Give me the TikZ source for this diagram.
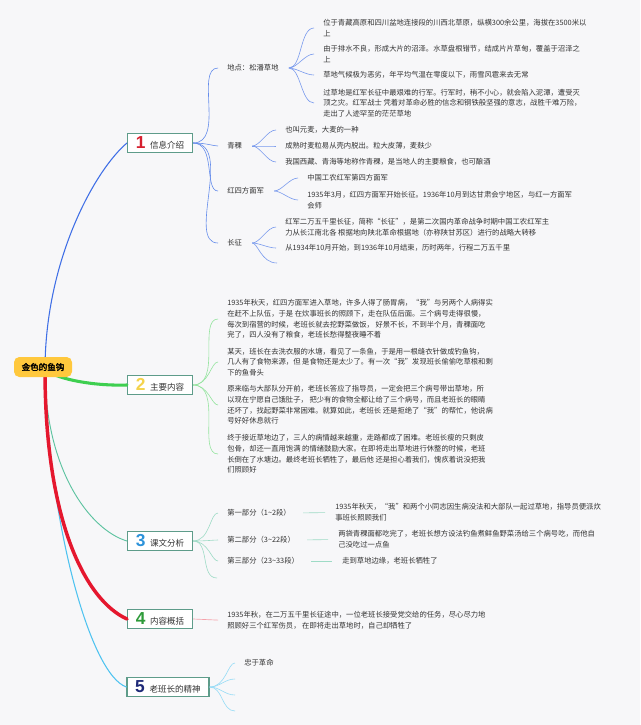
\documentclass[tikz,border=0pt]{standalone}
\usepackage{fontspec}
\setmainfont{Noto Sans CJK SC}[AutoFakeBold=2.5]
\newfontfamily\numfont{Liberation Sans}
\usetikzlibrary{positioning}
\definecolor{bgcol}{HTML}{F7F7F9}
\definecolor{txt}{HTML}{333333}
\definecolor{boxline}{HTML}{5E9C8A}
\definecolor{rootfill}{HTML}{FFC83D}
\definecolor{num1}{HTML}{D6202F}
\definecolor{num2}{HTML}{F4D34C}
\definecolor{num3}{HTML}{2D93DA}
\definecolor{num4}{HTML}{2E9B3A}
\definecolor{num5}{HTML}{1E2A78}
\definecolor{br1}{HTML}{3F6FE6}
\definecolor{br2}{HTML}{3ECF50}
\definecolor{br3}{HTML}{5DC3A0}
\definecolor{br4}{HTML}{E5172E}
\definecolor{br5}{HTML}{4FC3F0}
\newcommand{\bignum}[2]{{\numfont\bfseries\fontsize{13}{13}\selectfont\color{#1}#2}\hspace{3.5pt}}
\tikzset{
  mainbox/.style = {draw=boxline, line width=0.8pt, fill=white, text=txt,
                    minimum width=48.75pt, minimum height=14.25pt,
                    inner xsep=2pt, inner ysep=1pt,
                    font=\fontsize{6.4}{7}\selectfont},
  rootbox/.style = {fill=rootfill, rounded corners=4pt, text=black,
                    minimum width=43.5pt, minimum height=15pt,
                    font=\fontsize{6.4}{7}\selectfont\bfseries},
  topic/.style   = {anchor=west, inner sep=0pt, text=txt,
                    font=\fontsize{5.5}{8}\selectfont},
  leaf/.style    = {topic, align=left},
  trunk/.style   = {line width=0.8pt, line cap=round},
  fat/.style     = {line width=2.3pt, line cap=round},
  fan/.style     = {line width=0.45pt, shorten >=6.75pt},
}

\begin{document}
\begin{tikzpicture}[x=0.75pt, y=-0.75pt]
    \fill[bgcol] (0,0) rectangle (640,725);
    \useasboundingbox (0,0) rectangle (640,725);

    % five main topics
    \node[mainbox] (n1) at (160,143) {\bignum{num1}{1}信息介绍};
    \node[mainbox] (n2) at (160,385) {\bignum{num2}{2}主要内容};
    \node[mainbox] (n3) at (160,541) {\bignum{num3}{3}课文分析};
    \node[mainbox] (n4) at (160,619) {\bignum{num4}{4}内容概括};
    \node[mainbox, minimum width=61.5pt] (n5) at (168,687)
        {\bignum{num5}{5}老班长的精神};

    % trunks leave from under the root, so the root box goes on last
    \coordinate (hub) at (45,370);
    \draw[trunk, br1] (hub) .. controls (45,260) and (95,170) .. (n1.west);
    \draw[fat, br2]   (hub) .. controls (60,380) and (95,386) .. (n2.west);
    \draw[trunk, br3, line width=0.7pt]
                      (hub) .. controls (45,470) and (90,530) .. (n3.west);
    \draw[trunk, br5] (hub) .. controls (48,520) and (90,675) .. (n5.west);
    \draw[fat, br4, line width=2.6pt]
                      (hub) .. controls (45,520) and (85,600) .. (n4.west);
    \node[rootbox] (root) at (43,367) {金色的鱼钩};

    % 1 -- information
    \node[topic] (loc) at (227,68)  {地点：松潘草地};
    \node[topic] (qk)  at (227,146) {青稞};
    \node[topic] (hs)  at (227,191) {红四方面军};
    \node[topic] (cz)  at (227,243) {长征};
    \draw[fan, br1!80] (n1.east) to[out=0, in=180] (loc.west);
    \draw[fan, br1!80] (n1.east) to[out=0, in=180] (qk.west);
    \draw[fan, br1!80] (n1.east) to[out=0, in=180] (hs.west);
    \draw[fan, br1!80] (n1.east) to[out=0, in=180] (cz.west);

    \node[leaf] (loc1) at (323,28)
        {位于青藏高原和四川盆地连接段的川西北草原，纵横300余公里，海拔在3500米以\\上};
    \node[leaf] (loc2) at (323,54)
        {由于排水不良，形成大片的沼泽。水草盘根错节，结成片片草甸，覆盖于沼泽之\\上};
    \node[leaf] (loc3) at (323,75)
        {草地气候极为恶劣，年平均气温在零度以下，雨雪风雹来去无常};
    \node[leaf] (loc4) at (323,103)
        {过草地是红军长征中最艰难的行军。行军时，稍不小心，就会陷入泥潭，遭受灭\\
         顶之灾。红军战士 凭着对革命必胜的信念和钢铁般坚强的意志，战胜千难万险，\\
         走出了人迹罕至的茫茫草地};
    \draw[fan, br1!70, shorten <=7.5pt] (loc.east) to[out=0, in=180] (loc1.west);
    \draw[fan, br1!70, shorten <=7.5pt] (loc.east) to[out=0, in=180] (loc2.west);
    \draw[fan, br1!70, shorten <=7.5pt] (loc.east) to[out=0, in=180] (loc3.west);
    \draw[fan, br1!70, shorten <=7.5pt] (loc.east) to[out=0, in=180] (loc4.west);

    \node[leaf] (qk1) at (285,130) {也叫元麦，大麦的一种};
    \node[leaf] (qk2) at (285,146) {成熟时麦粒易从壳内脱出。粒大皮薄，麦麸少};
    \node[leaf] (qk3) at (285,162)
        {我国西藏、青海等地称作青稞，是当地人的主要粮食，也可酿酒};
    \draw[fan, br1!70, shorten <=7.5pt] (qk.east) to[out=0, in=180] (qk1.west);
    \draw[fan, br1!70, shorten <=7.5pt] (qk.east) to[out=0, in=180] (qk2.west);
    \draw[fan, br1!70, shorten <=7.5pt] (qk.east) to[out=0, in=180] (qk3.west);

    \node[leaf] (hs1) at (307,178) {中国工农红军第四方面军};
    \node[leaf] (hs2) at (307,200)
        {1935年3月，红四方面军开始长征。1936年10月到达甘肃会宁地区，与红一方面军\\会师};
    \draw[fan, br1!70, shorten <=7.5pt] (hs.east) to[out=0, in=180] (hs1.west);
    \draw[fan, br1!70, shorten <=7.5pt] (hs.east) to[out=0, in=180] (hs2.west);

    \node[leaf] (cz1) at (285,227)
        {红军二万五千里长征，简称“长征”，是第二次国内革命战争时期中国工农红军主\\
         力从长江南北各 根据地向陕北革命根据地（亦称陕甘苏区）进行的战略大转移};
    \node[leaf] (cz2) at (285,248)
        {从1934年10月开始，到1936年10月结束，历时两年，行程二万五千里};
    \coordinate (cz3) at (277,263);
    \draw[fan, br1!70, shorten <=7.5pt] (cz.east) to[out=0, in=180] (cz1.west);
    \draw[fan, br1!70, shorten <=7.5pt] (cz.east) to[out=0, in=180] (cz2.west);
    \draw[fan, br1!70, shorten <=7.5pt, shorten >=0pt]
        (cz.east) to[out=0, in=180] (cz3);

    % 2 -- main content
    \node[leaf] (m1) at (227,319)
        {1935年秋天，红四方面军进入草地，许多人得了肠胃病，“我”与另两个人病得实\\
         在赶不上队伍，于是 在炊事班长的照顾下，走在队伍后面。三个病号走得很慢，\\
         每次到宿营的时候，老班长就去挖野菜做饭， 好景不长，不到半个月，青稞面吃\\
         完了，四人没有了粮食，老班长愁得整夜睡不着};
    \node[leaf] (m2) at (227,362)
        {某天，班长在去洗衣服的水塘，看见了一条鱼，于是用一根缝衣针做成钓鱼钩，\\
         几人有了食物来源，但 是食物还是太少了。有一次“我”发现班长偷偷吃草根和剩\\
         下的鱼骨头};
    \node[leaf] (m3) at (227,405)
        {原来临与大部队分开前，老班长答应了指导员，一定会把三个病号带出草地，所\\
         以现在宁愿自己饿肚子， 把少有的食物全都让给了三个病号，而且老班长的眼睛\\
         还坏了，找起野菜非常困难。就算如此，老班长 还是拒绝了“我”的帮忙，他说病\\
         号好好休息就行};
    \node[leaf] (m4) at (227,454)
        {终于接近草地边了，三人的病情越来越重，走路都成了困难。老班长瘦的只剩皮\\
         包骨，却还一直用饱满 的情绪鼓励大家。在即将走出草地进行休整的时候，老班\\
         长倒在了水塘边。最终老班长牺牲了，最后他 还是担心着我们，愧疚着说没把我\\
         们照顾好};
    \draw[fan, br2!55] (n2.east) to[out=0, in=180] (m1.west);
    \draw[fan, br2!55] (n2.east) to[out=0, in=180] (m2.west);
    \draw[fan, br2!55] (n2.east) to[out=0, in=180] (m3.west);
    \draw[fan, br2!55] (n2.east) to[out=0, in=180] (m4.west);

    % 3 -- text analysis
    \node[topic] (s1) at (227,513) {第一部分（1\textasciitilde 2段）};
    \node[topic] (s2) at (227,540) {第二部分（3\textasciitilde 22段）};
    \node[topic] (s3) at (227,561) {第三部分（23\textasciitilde 33段）};
    \coordinate (s4) at (217,578);
    \draw[fan, br3!60] (n3.east) to[out=0, in=180] (s1.west);
    \draw[fan, br3!60] (n3.east) to[out=0, in=180] (s2.west);
    \draw[fan, br3!60] (n3.east) to[out=0, in=180] (s3.west);
    \draw[fan, br3!60, shorten >=0pt] (n3.east) to[out=0, in=180] (s4);

    \node[leaf] (t1) at (335,512.5)
        {1935年秋天，“我”和两个小同志因生病没法和大部队一起过草地，指导员便派炊\\
         事班长照顾我们};
    \node[leaf] (t2) at (338,539.5)
        {两袋青稞面都吃完了，老班长想方设法钓鱼煮鲜鱼野菜汤给三个病号吃，而他自\\
         己没吃过一点鱼};
    \node[leaf] (t3) at (342,561) {走到草地边缘，老班长牺牲了};
    \draw[br3!60, line width=0.45pt, shorten <=9pt, shorten >=7.5pt] (s1.east) -- (t1.west);
    \draw[br3!60, line width=0.45pt, shorten <=9pt, shorten >=7.5pt] (s2.east) -- (t2.west);
    \draw[br3!60, line width=0.45pt, shorten <=9pt, shorten >=7.5pt] (s3.east) -- (t3.west);

    % 4 -- summary
    \node[leaf] (g1) at (227,620.5)
        {1935年秋，在二万五千里长征途中，一位老班长接受党交给的任务，尽心尽力地\\
         照顾好三个红军伤员， 在即将走出草地时，自己却牺牲了};
    \draw[br4!40, line width=0.5pt, shorten >=6.75pt] (n4.east) -- (g1.west);

    % 5 -- the old squad leader
    \node[topic] (v1) at (244,663) {忠于革命};
    \coordinate (v2) at (235,679);
    \coordinate (v3) at (235,695);
    \coordinate (v4) at (235,711);
    \draw[fan, br5!60] (n5.east) to[out=0, in=180] (v1.west);
    \draw[fan, br5!60, shorten >=0pt] (n5.east) to[out=0, in=180] (v2);
    \draw[fan, br5!60, shorten >=0pt] (n5.east) to[out=0, in=180] (v3);
    \draw[fan, br5!60, shorten >=0pt] (n5.east) to[out=0, in=180] (v4);
\end{tikzpicture}
\end{document}
